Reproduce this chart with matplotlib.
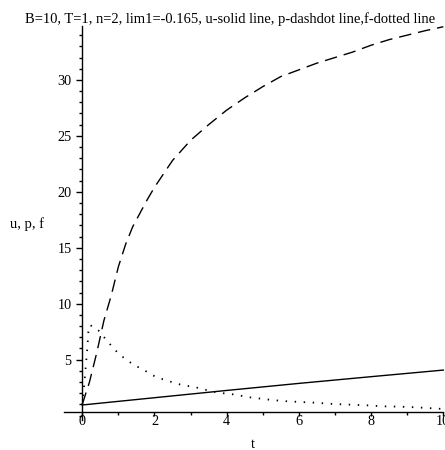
import matplotlib
matplotlib.use("Agg")
import matplotlib.pyplot as plt
from matplotlib.ticker import MultipleLocator, FixedLocator

# ---- data ----
t_p = [0, 0.2, 0.4, 0.6, 0.8, 1.0, 1.2, 1.4, 1.6, 1.8, 2.0, 2.5, 3.0, 3.5,
       4.0, 4.5, 5.0, 5.5, 6.0, 6.5, 7.0, 7.5, 8.0, 8.5, 9.0, 9.5, 10.0]
p_vals = [1.0, 3.0, 5.6, 8.5, 10.7, 13.3, 15.3, 16.9, 18.1, 19.3, 20.4, 22.8,
          24.6, 26.0, 27.3, 28.4, 29.4, 30.3, 30.9, 31.5, 32.0, 32.5, 33.1,
          33.6, 34.0, 34.4, 34.75]

t_f = [0, 0.05, 0.1, 0.14, 0.17, 0.21, 0.35, 0.49, 0.63, 0.79, 0.93, 1.11,
       1.44, 1.64, 1.83, 2.04, 2.24, 2.45, 2.66, 2.87, 3.09, 3.31, 3.77,
       4.18, 4.65, 5.11, 5.57, 6.03, 6.49, 6.95, 7.42, 7.88, 8.34, 8.8,
       9.26, 9.86, 10.0]
f_vals = [0.95, 2.6, 4.5, 6.0, 7.5, 8.1, 7.85, 7.5, 6.9, 6.3, 5.8, 5.27,
          4.5, 4.2, 3.84, 3.45, 3.24, 3.03, 2.82, 2.67, 2.58, 2.38, 2.05,
          1.9, 1.63, 1.45, 1.3, 1.22, 1.15, 1.04, 0.98, 0.92, 0.83, 0.8,
          0.74, 0.62, 0.6]

t_u = [0, 2, 4, 6, 8, 10]
u_vals = [0.95, 1.6, 2.25, 2.88, 3.48, 4.07]

title = "B=10, T=1, n=2, lim1=-0.165, u-solid line, p-dashdot line,f-dotted line"
x_label = "t"
y_label = "u, p, f"
x_major = [0, 2, 4, 6, 8, 10]
x_minor = [1, 3, 5, 7, 9]
y_major = [5, 10, 15, 20, 25, 30]

plt.rcParams['font.family'] = ['Liberation Serif', 'DejaVu Serif']

W, H = 445, 450
fig = plt.figure(figsize=(W / 100, H / 100), dpi=100)
ax = fig.add_axes([64.2 / W, (H - 420.1) / H, (443.3 - 64.2) / W, (420.1 - 26.2) / H])

ax.plot(t_u, u_vals, color='black', lw=1.0, clip_on=False)
ax.plot(t_p, p_vals, color='black', lw=1.0, dashes=(9, 5), clip_on=False)
ax.plot(t_f, f_vals, color='black', lw=1.3, dashes=(0.8, 4.2), clip_on=False)

ax.set_xlim(-0.5, 10)
ax.set_ylim(-0.4, 34.8)

for s in ['top', 'right']:
    ax.spines[s].set_visible(False)
ax.spines['left'].set_position(('data', 0))
ax.spines['bottom'].set_position(('data', 0.3))
ax.spines['left'].set_bounds(-0.4, 34.8)
ax.spines['bottom'].set_bounds(-0.5, 10)
for s in ['left', 'bottom']:
    ax.spines[s].set_linewidth(1.0)

ax.xaxis.set_major_locator(FixedLocator(x_major))
ax.xaxis.set_minor_locator(FixedLocator(x_minor))
ax.yaxis.set_major_locator(FixedLocator(y_major))
ax.yaxis.set_minor_locator(MultipleLocator(1))

ax.tick_params(axis='x', which='major', direction='out', length=3.2, width=1,
               pad=-1.5, labelsize=10.3)
ax.tick_params(axis='x', which='minor', direction='out', length=2.2, width=1)
ax.tick_params(axis='y', which='major', direction='out', length=4.3, width=1,
               pad=3.5, labelsize=10.3)
ax.tick_params(axis='y', which='minor', direction='out', length=2.2, width=1)

fig.text(230 / W, 1 - 23 / H, title, ha='center', va='baseline', fontsize=10.45)
fig.text(10 / W, 1 - 228 / H, y_label, ha='left', va='baseline', fontsize=10.5)
fig.text(253 / W, 1 - 448 / H, x_label, ha='center', va='baseline', fontsize=10.5)

fig.savefig("out.png", dpi=100)
